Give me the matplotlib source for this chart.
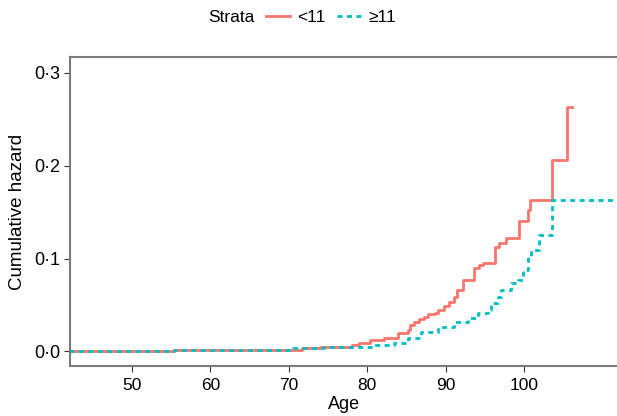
import matplotlib
matplotlib.use("Agg")
import matplotlib.pyplot as plt
from matplotlib.lines import Line2D

plt.rcParams['font.family'] = ['Liberation Sans', 'DejaVu Sans']

# step data (age where the step happens, cumulative hazard after it)
lt11_age = [42, 55.3, 71.7, 74.0, 78.1, 78.9, 80.4, 82.1, 83.9, 85.2, 85.5, 85.9, 86.6,
            87.2, 87.8, 88.7, 89.0, 89.8, 90.4, 91.0, 91.5, 92.2, 93.6, 94.2, 94.7,
            96.3, 96.8, 97.7, 99.3, 100.5, 100.7, 103.6, 105.5, 106.1]
lt11_haz = [0.0, 0.0016, 0.0034, 0.005, 0.007, 0.0088, 0.0124, 0.014, 0.0196, 0.023,
            0.0285, 0.032, 0.035, 0.0375, 0.040, 0.0417, 0.045, 0.049, 0.0535, 0.059,
            0.066, 0.0769, 0.0895, 0.093, 0.0948, 0.1127, 0.1163, 0.1217, 0.1403,
            0.152, 0.163, 0.206, 0.2626, 0.2626]

ge11_age = [42, 55.3, 70.5, 74.5, 80.8, 83.4, 85.2, 86.8, 89.0, 91.0, 92.8, 94.1, 95.4,
            95.8, 96.7, 97.0, 98.3, 99.2, 99.8, 100.5, 100.9, 101.9, 103.6, 113]
ge11_haz = [0.0, 0.0016, 0.0034, 0.005, 0.007, 0.009, 0.0145, 0.021, 0.0263, 0.0317,
            0.036, 0.041, 0.0446, 0.052, 0.0586, 0.066, 0.0737, 0.077, 0.0876, 0.102,
            0.109, 0.125, 0.163, 0.163]

x_ticks = [50, 60, 70, 80, 90, 100]
y_ticks = [0.0, 0.1, 0.2, 0.3]
y_labels = ["0\u00b70", "0\u00b71", "0\u00b72", "0\u00b73"]

red = "#F8766D"
cyan = "#00BFC4"
dash = (0, (1.8, 1.6))

fig = plt.figure(figsize=(6.17, 4.16), dpi=100)
ax = fig.add_axes([70 / 617, 50 / 416, 549 / 617, 309 / 416])

ax.step(lt11_age, lt11_haz, where="post", color=red, lw=2.0)
ax.step(ge11_age, ge11_haz, where="post", color=cyan, lw=2.0, linestyle=dash)

ax.set_xlim(42.1, 112.1)
ax.set_ylim(-0.0156, 0.3167)
ax.set_xticks(x_ticks)
ax.set_yticks(y_ticks)
ax.set_yticklabels(y_labels)
ax.tick_params(axis="x", labelsize=12.5, length=4, color="#333333", pad=5)
ax.tick_params(axis="y", labelsize=13, length=4, color="#333333", pad=3)
for s in ax.spines.values():
    s.set_color("#7a7a7a")
    s.set_linewidth(1.5)

ax.set_xlabel("Age", fontsize=13, labelpad=2)
ax.set_ylabel("Cumulative hazard", fontsize=13.5, labelpad=6)

# legend on top
fig.text(208 / 617, 1 - 17 / 416, "Strata", fontsize=12.5, ha="left", va="center")
handles = [Line2D([], [], color=red, lw=2.0),
           Line2D([], [], color=cyan, lw=2.0, linestyle=dash)]
fig.legend(handles, ["<11", "\u226511"], loc="center left", ncol=2,
           bbox_to_anchor=(257 / 617, 1 - 17 / 416), frameon=False, fontsize=12.5,
           handlelength=1.4, handletextpad=0.4, columnspacing=0.7, borderpad=0)

fig.savefig("out.png", dpi=100)
